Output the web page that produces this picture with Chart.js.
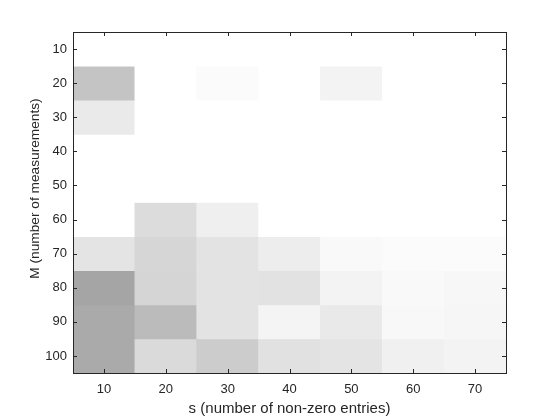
<!DOCTYPE html>
<html>
<head>
<meta charset="utf-8">
<script src="https://cdn.jsdelivr.net/npm/chart.js@4"></script>
<style>
  html, body { margin: 0; padding: 0; background: #fff; }
  #wrap { width: 560px; height: 420px; }
</style>
</head>
<body>
<div id="wrap"><canvas id="c" width="560" height="420"></canvas></div>
<script>
// x categories: s (number of non-zero entries)
const sValues = [10, 20, 30, 40, 50, 60, 70];
// y rows: M (number of measurements)
const mValues = [10, 20, 30, 40, 50, 60, 70, 80, 90, 100];
// gray level of each cell (0 = black, 255 = white), one row per M
const gray = [
  [255, 255, 255, 255, 255, 255, 255], // M = 10
  [196, 255, 251, 255, 243, 255, 255], // M = 20
  [234, 255, 255, 255, 255, 255, 255], // M = 30
  [255, 255, 255, 255, 255, 255, 255], // M = 40
  [255, 255, 255, 255, 255, 255, 255], // M = 50
  [255, 220, 239, 255, 255, 255, 255], // M = 60
  [228, 214, 227, 237, 249, 251, 251], // M = 70
  [165, 213, 227, 226, 243, 249, 247], // M = 80
  [170, 187, 227, 244, 233, 248, 246], // M = 90
  [170, 218, 204, 225, 228, 240, 243]  // M = 100
];
const xTitle = 's (number of non-zero entries)';
const yTitle = 'M (number of measurements)';

const axisColor = '#262626';
const family = 'Liberation Sans, Arial, sans-serif';
const tickFont = { family, size: 13 };
const titleFont = { family, size: 15 };

// one floating-bar dataset per M row, spanning half a step either side
const datasets = mValues.map((m, i) => ({
  data: sValues.map(() => [m - 5, m + 5]),
  backgroundColor: gray[i].map(g => `rgb(${g},${g},${g})`),
  borderWidth: 0,
  barPercentage: 1,
  categoryPercentage: 1,
  grouped: false
}));

// box, inward tick marks and the y label (sits a bit above centre in the original)
const frame = {
  id: 'frame',
  afterDraw(chart) {
    const { ctx, chartArea: a, scales } = chart;
    ctx.save();
    ctx.strokeStyle = axisColor;
    ctx.lineWidth = 1;
    ctx.beginPath();
    const len = 4;
    scales.x.ticks.forEach((t, i) => {
      const x = Math.round(scales.x.getPixelForTick(i)) + 0.5;
      ctx.moveTo(x, a.bottom); ctx.lineTo(x, a.bottom - len);
      ctx.moveTo(x, a.top); ctx.lineTo(x, a.top + len);
    });
    scales.y.ticks.forEach(t => {
      const y = Math.round(scales.y.getPixelForValue(t.value)) + 0.5;
      ctx.moveTo(a.left, y); ctx.lineTo(a.left + len, y);
      ctx.moveTo(a.right, y); ctx.lineTo(a.right - len, y);
    });
    ctx.stroke();
    ctx.strokeRect(Math.round(a.left) + 0.5, Math.round(a.top) + 0.5,
      Math.round(a.right - a.left), Math.round(a.bottom - a.top));

    ctx.translate(35, (a.top + a.bottom) / 2 - 14);
    ctx.rotate(-Math.PI / 2);
    ctx.fillStyle = axisColor;
    ctx.font = '13.7px ' + family;
    ctx.textAlign = 'center';
    ctx.textBaseline = 'middle';
    ctx.fillText(yTitle, 0, 0);
    ctx.restore();
  }
};

new Chart(document.getElementById('c'), {
  type: 'bar',
  data: { labels: sValues, datasets },
  plugins: [frame],
  options: {
    responsive: false,
    animation: false,
    layout: { padding: { top: 32, right: 54, left: 0, bottom: 0 } },
    plugins: { legend: { display: false }, tooltip: { enabled: false } },
    scales: {
      x: {
        type: 'category',
        offset: true,
        grid: { display: false, drawTicks: false },
        border: { display: false },
        ticks: { color: axisColor, font: tickFont, padding: 9, maxRotation: 0 },
        title: { display: true, text: xTitle, color: axisColor, font: titleFont, padding: { top: 0, bottom: 2 } },
        afterFit(scale) { scale.height = 47; }
      },
      y: {
        type: 'linear',
        reverse: true,
        min: 5,
        max: 105,
        grid: { display: false, drawTicks: false },
        border: { display: false },
        ticks: { color: axisColor, font: tickFont, padding: 6 },
        afterBuildTicks(scale) { scale.ticks = mValues.map(v => ({ value: v })); },
        afterFit(scale) { scale.width = 73; }
      }
    }
  }
});
</script>
</body>
</html>
